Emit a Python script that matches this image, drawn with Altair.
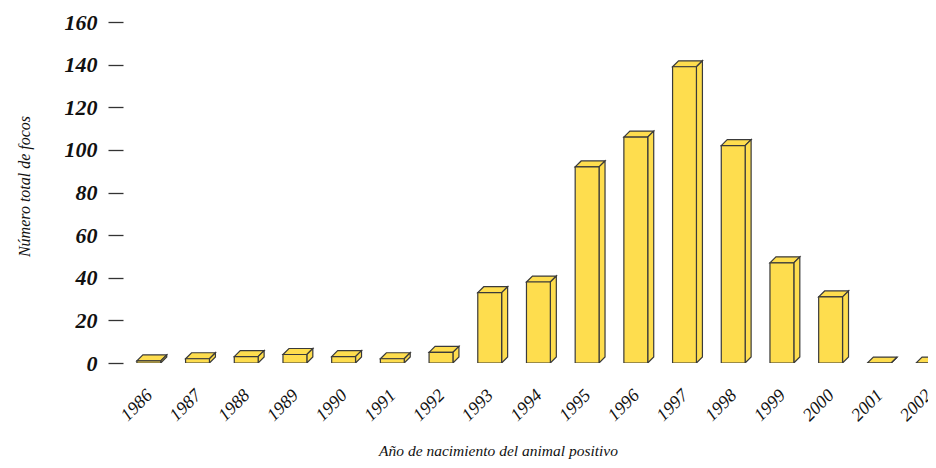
import altair as alt
import pandas as pd

# ---- data ----
years = [1986, 1987, 1988, 1989, 1990, 1991, 1992, 1993, 1994, 1995,
         1996, 1997, 1998, 1999, 2000, 2001, 2002]
focos = [1, 2, 3, 4, 3, 2, 5, 33, 38, 92, 106, 139, 102, 47, 31, 0, 0]
y_ticks = [0, 20, 40, 60, 80, 100, 120, 140, 160]

x_title = "Año de nacimiento del animal positivo"
y_title = "Número total de focos"

# ---- style / geometry (3-D box look) ----
HALF = 0.245   # half bar width, in years
DX = 0.123     # depth to the right, in years
DY = 2.8       # depth upward, in value units
FILL = "#FEDD4E"
EDGE = "#3a3a3a"
FONT = "Liberation Serif"

front = pd.DataFrame({"year": years, "v": focos})
front["lo"] = front["year"] - HALF
front["hi"] = front["year"] + HALF
front["base"] = 0

top_rows, side_rows = [], []
for yr, v in zip(years, focos):
    lo, hi = yr - HALF, yr + HALF
    top_rows += [
        {"year": yr, "x": lo, "y": v, "y2": v},
        {"year": yr, "x": lo + DX, "y": v, "y2": v + DY},
        {"year": yr, "x": hi, "y": v, "y2": v + DY},
        {"year": yr, "x": hi + DX, "y": v + DY, "y2": v + DY},
    ]
    side_rows += [
        {"year": yr, "x": hi, "y": 0, "y2": v},
        {"year": yr, "x": hi + DX, "y": DY, "y2": v + DY},
    ]
top = pd.DataFrame(top_rows)
side = pd.DataFrame(side_rows)

xscale = alt.Scale(domain=[1985.47, 2002.0], nice=False, zero=False)
yscale = alt.Scale(domain=[0, 160], nice=False)

xaxis = alt.Axis(
    values=years, format="d", labelAngle=-45, labelAlign="right",
    labelBaseline="alphabetic", labelPadding=33, labelOffset=4,
    ticks=False, domain=False, grid=False,
    labelFont=FONT, labelFontStyle="italic", labelFontSize=18, labelColor="#111",
    title=x_title, titleFont=FONT, titleFontStyle="italic", titleFontWeight="normal",
    titleFontSize=15.5, titleColor="#111", titleX=375, titleY=92,
    titleBaseline="alphabetic", titleAnchor="start", titleAlign="center",
)
yaxis = alt.Axis(
    values=y_ticks, format="d", domain=False, grid=False,
    tickSize=15, tickColor="#333", tickWidth=1.3, labelPadding=11,
    labelFont=FONT, labelFontStyle="italic", labelFontWeight="bold",
    labelFontSize=22, labelColor="#111",
    title=y_title, titleFont=FONT, titleFontStyle="italic", titleFontWeight="normal",
    titleFontSize=16, titleColor="#111", titleX=-94, titleY=164,
    titleBaseline="alphabetic", titleAngle=-90, titleAlign="center",
)

top_layer = alt.Chart(top).mark_area(
    orient="vertical", fill=FILL, stroke=EDGE, strokeWidth=1.2,
    fillOpacity=1, interpolate="linear", clip=True
).encode(
    x=alt.X("x:Q", scale=xscale, axis=xaxis),
    y=alt.Y("y:Q", scale=yscale, axis=yaxis, stack=None),
    y2="y2:Q",
    detail="year:N",
)
side_layer = alt.Chart(side).mark_area(
    orient="vertical", fill=FILL, stroke=EDGE, strokeWidth=1.2,
    fillOpacity=1, interpolate="linear", clip=True
).encode(
    x=alt.X("x:Q", scale=xscale),
    y=alt.Y("y:Q", scale=yscale, stack=None),
    y2="y2:Q",
    detail="year:N",
)
front_layer = alt.Chart(front).mark_rect(
    fill=FILL, stroke=EDGE, strokeWidth=1.2, clip=True
).encode(
    x=alt.X("lo:Q", scale=xscale),
    x2="hi:Q",
    y=alt.Y("v:Q", scale=yscale),
    y2="base:Q",
)

chart = alt.layer(top_layer, side_layer, front_layer).properties(
    width=805, height=341,
    padding={"left": 115, "top": 14, "right": 0, "bottom": 97},
    autosize=alt.AutoSizeParams(type="none"),
    background="white",
).configure_view(stroke=None).configure_axis(labelOverlap=False)

chart.save("out.html", embed_options={"renderer": "svg", "actions": False})
